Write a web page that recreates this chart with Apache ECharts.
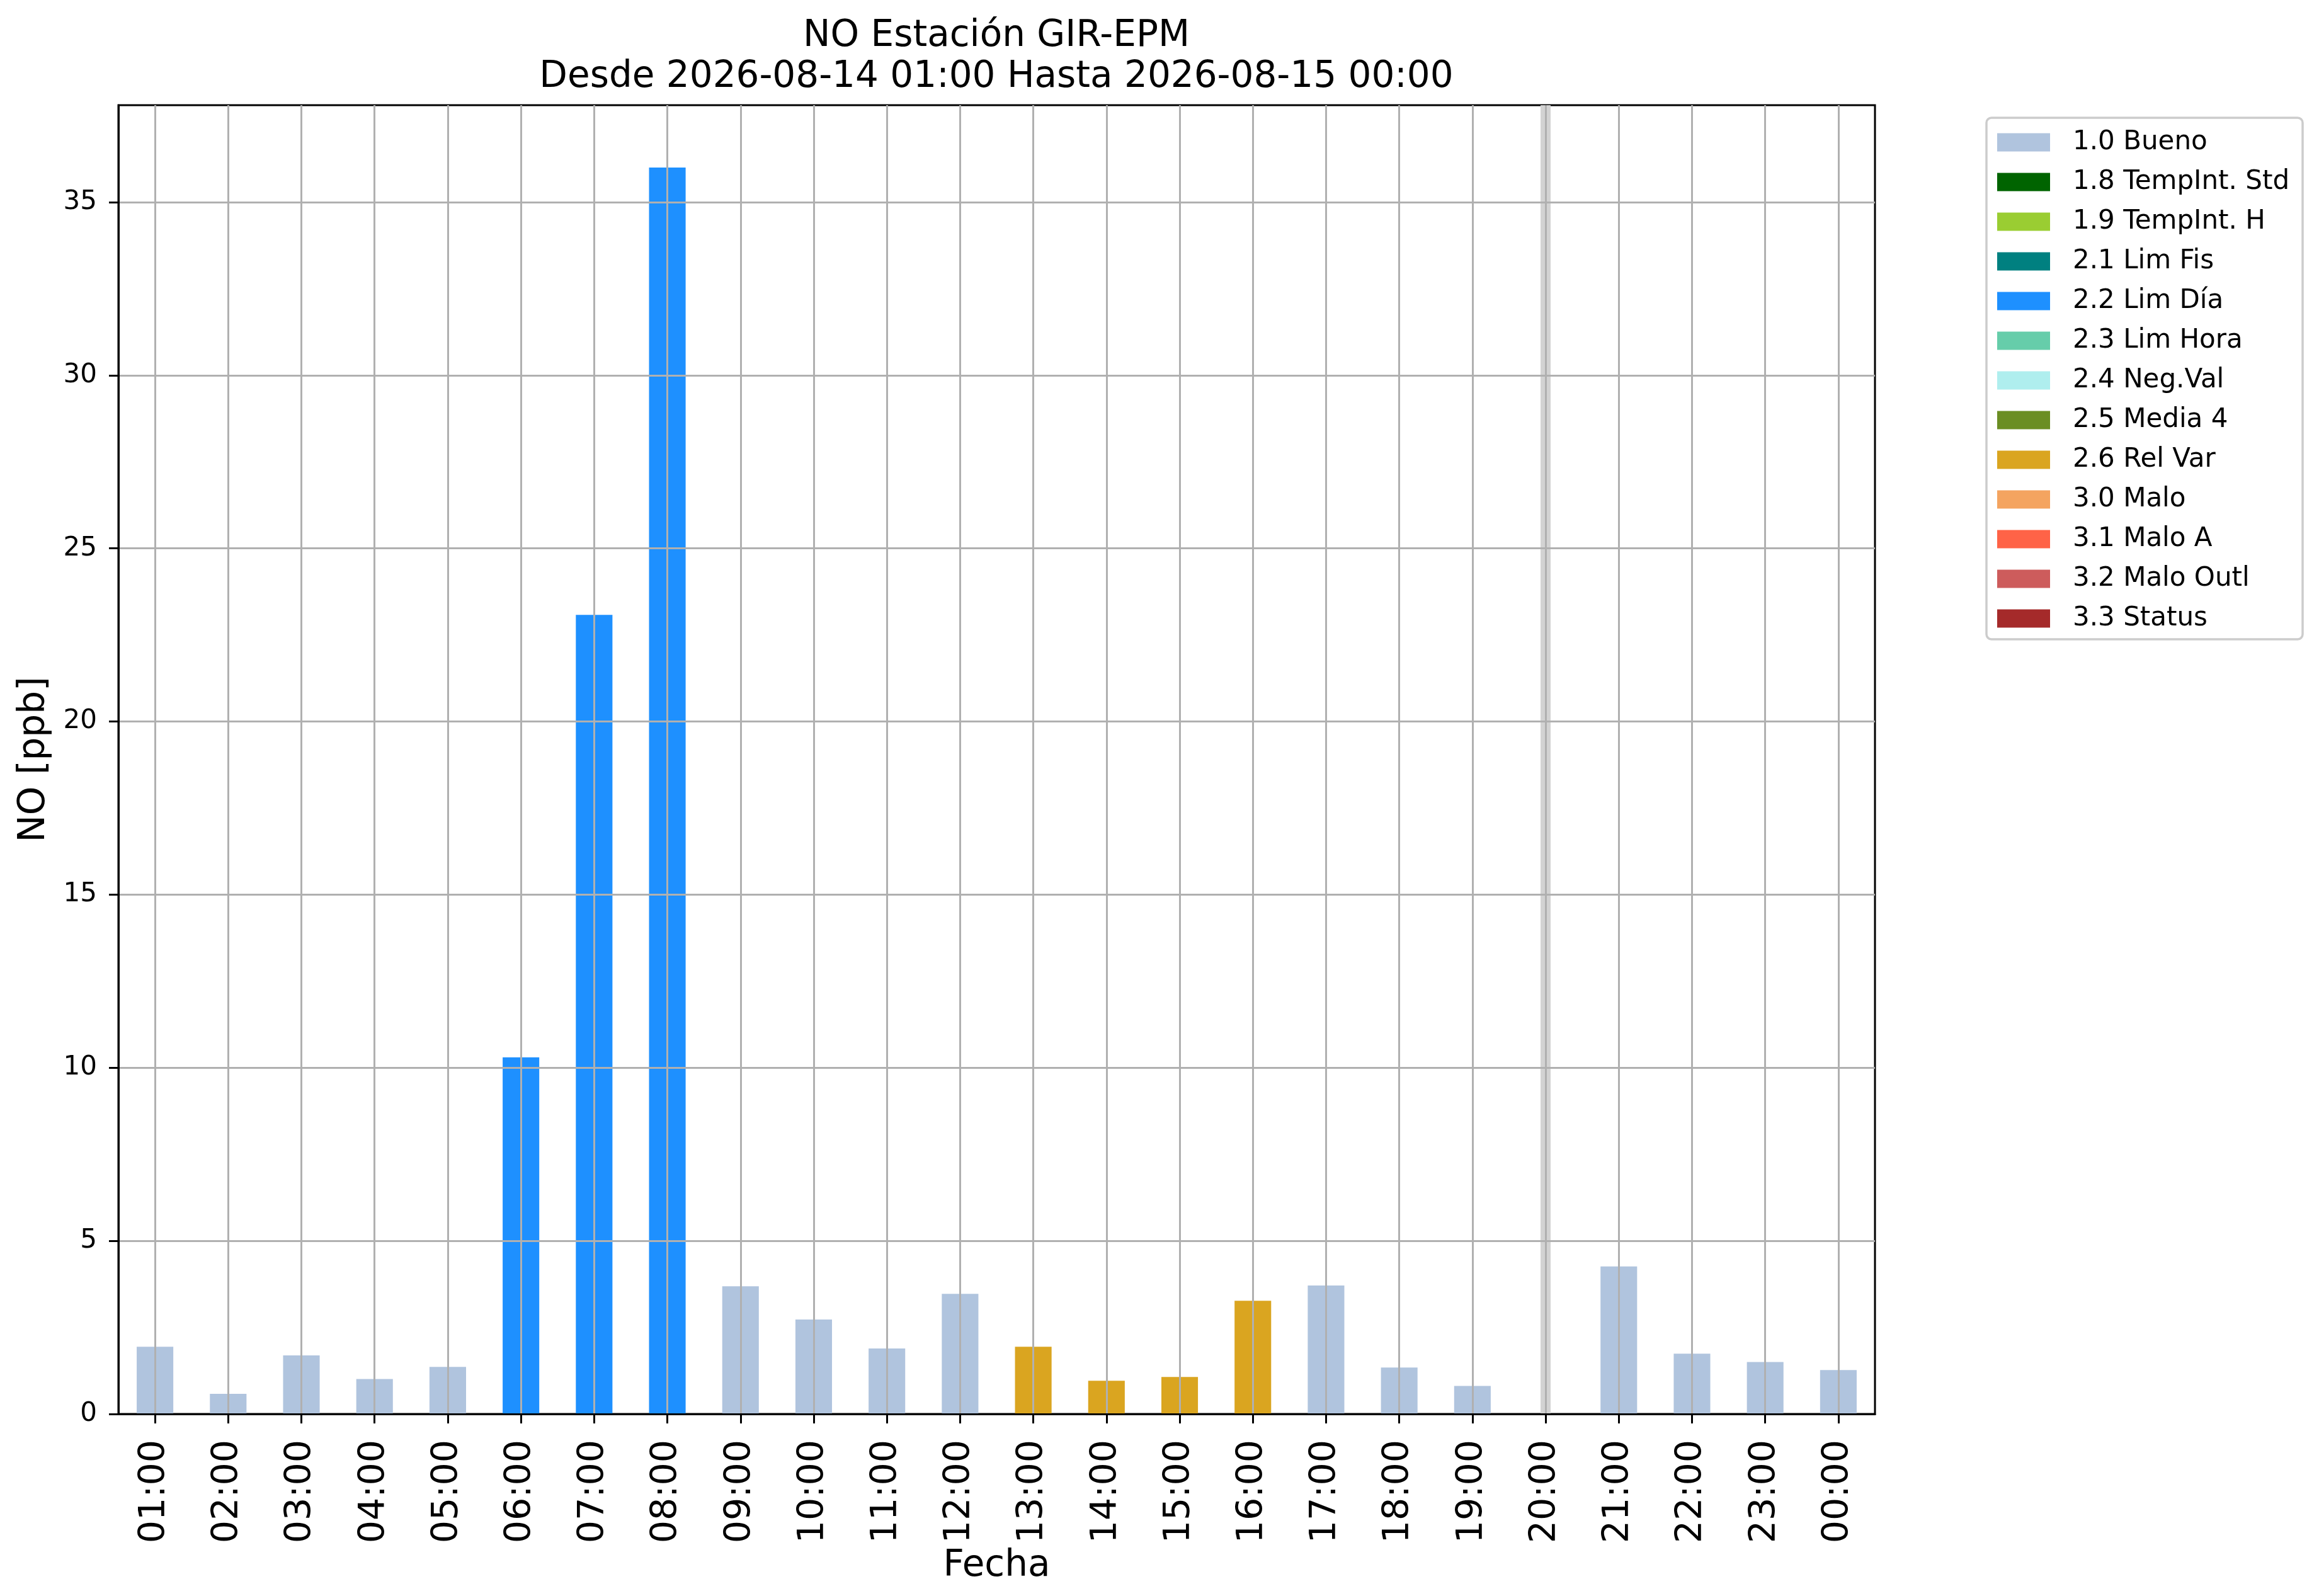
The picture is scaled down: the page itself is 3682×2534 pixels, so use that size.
<!DOCTYPE html>
<html>
<head>
<meta charset="utf-8">
<script src="https://cdn.jsdelivr.net/npm/echarts@6/dist/echarts.min.js"></script>
<style>
html,body{margin:0;padding:0;background:#fff;}
#chart{width:3682px;height:2534px;}
</style>
</head>
<body>
<div id="chart"></div>
<script>
// ---- data ----
const hours = ['01:00','02:00','03:00','04:00','05:00','06:00','07:00','08:00','09:00','10:00','11:00','12:00',
               '13:00','14:00','15:00','16:00','17:00','18:00','19:00','20:00','21:00','22:00','23:00','00:00'];
const noValues = [1.94, 0.58, 1.69, 1.01, 1.36, 10.30, 23.08, 36.00, 3.69, 2.73, 1.89, 3.47,
                  1.94, 0.96, 1.07, 3.27, 3.71, 1.34, 0.81, null, 4.26, 1.74, 1.50, 1.27];
const flagOf = ['1.0 Bueno','1.0 Bueno','1.0 Bueno','1.0 Bueno','1.0 Bueno','2.2 Lim Día','2.2 Lim Día','2.2 Lim Día',
                '1.0 Bueno','1.0 Bueno','1.0 Bueno','1.0 Bueno','2.6 Rel Var','2.6 Rel Var','2.6 Rel Var','2.6 Rel Var',
                '1.0 Bueno','1.0 Bueno','1.0 Bueno',null,'1.0 Bueno','1.0 Bueno','1.0 Bueno','1.0 Bueno'];
const flagNames = ['1.0 Bueno','1.8 TempInt. Std','1.9 TempInt. H','2.1 Lim Fis','2.2 Lim Día','2.3 Lim Hora',
                   '2.4 Neg.Val','2.5 Media 4','2.6 Rel Var','3.0 Malo','3.1 Malo A','3.2 Malo Outl','3.3 Status'];
const flagColors = ['#b0c4de','#006400','#9acd32','#008080','#1e90ff','#66cdaa',
                    '#afeeee','#6b8e23','#daa520','#f4a460','#ff6347','#cd5c5c','#a52a2a'];
const missingHour = '20:00';
const yTicks = [0,5,10,15,20,25,30,35];
const titleLines = ['NO Estación GIR-EPM','Desde 2026-08-14 01:00 Hasta 2026-08-15 00:00'];

// ---- chart ----
const FONT = 'DejaVu Sans';
const chart = echarts.init(document.getElementById('chart'), null, {renderer:'canvas'});

const series = flagNames.map((name, k) => {
  const s = {
    name: name,
    type: 'bar',
    stack: 'all',
    barWidth: '50%',
    itemStyle: {color: flagColors[k]},
    emphasis: {disabled: true},
    data: noValues.map((v, i) => (flagOf[i] === name ? v : null))
  };
  if (k === 0) {
    s.markLine = {
      silent: true,
      symbol: 'none',
      z: 1,
      label: {show: false},
      lineStyle: {color: '#d3d3d3', width: 16, type: 'solid'},
      data: [{xAxis: missingHour}]
    };
  }
  return s;
});

const option = {
  backgroundColor: '#ffffff',
  animation: false,
  textStyle: {fontFamily: FONT},
  grid: {left: 188, top: 167, width: 2789, height: 2078, show: true,
         borderColor: '#000', borderWidth: 3, backgroundColor: '#fff'},
  legend: {
    orient: 'vertical',
    left: 3171,
    top: 205,
    padding: 0,
    itemWidth: 84,
    itemHeight: 29,
    itemGap: 21,
    icon: 'rect',
    selectedMode: false,
    textStyle: {fontFamily: FONT, fontSize: 42, color: '#000', lineHeight: 42, padding: [0,0,0,31]},
    data: flagNames
  },
  xAxis: {
    type: 'category',
    data: hours,
    z: 10,
    boundaryGap: true,
    axisLine: {show: true, lineStyle: {color: '#000', width: 3}},
    axisTick: {show: true, alignWithLabel: true, length: 15, lineStyle: {color: '#000', width: 3}},
    axisLabel: {rotate: 90, fontSize: 57, color: '#000', fontFamily: FONT, margin: 41, interval: 0},
    splitLine: {show: true, alignWithLabel: true, lineStyle: {color: '#b0b0b0', width: 3}},
    name: 'Fecha',
    nameLocation: 'middle',
    nameGap: 195,
    nameTextStyle: {fontSize: 58, color: '#000', fontFamily: FONT}
  },
  yAxis: {
    type: 'value',
    min: 0,
    max: 37.8,
    interval: 5,
    z: 10,
    axisLine: {show: true, lineStyle: {color: '#000', width: 3}},
    axisTick: {show: true, length: 15, lineStyle: {color: '#000', width: 3}, customValues: yTicks},
    axisLabel: {fontSize: 42, color: '#000', fontFamily: FONT, margin: 34, customValues: yTicks},
    splitLine: {show: true, lineStyle: {color: '#b0b0b0', width: 3}},
    name: 'NO [ppb]',
    nameLocation: 'middle',
    nameGap: 104,
    nameTextStyle: {fontSize: 58, color: '#000', fontFamily: FONT}
  },
  graphic: [
    {type: 'rect', z: 0, shape: {x: 3154, y: 187, width: 502, height: 828, r: 8},
     style: {fill: '#fff', stroke: '#cccccc', lineWidth: 3.5}},
    {type: 'text', z: 10, style: {text: titleLines[0], x: 1582, y: 58, textAlign: 'center', textVerticalAlign: 'middle',
      fontSize: 58, fontFamily: FONT, fill: '#000'}},
    {type: 'text', z: 10, style: {text: titleLines[1], x: 1582, y: 123, textAlign: 'center', textVerticalAlign: 'middle',
      fontSize: 58, fontFamily: FONT, fill: '#000'}}
  ],
  series: series
};
chart.setOption(option);
</script>
</body>
</html>
